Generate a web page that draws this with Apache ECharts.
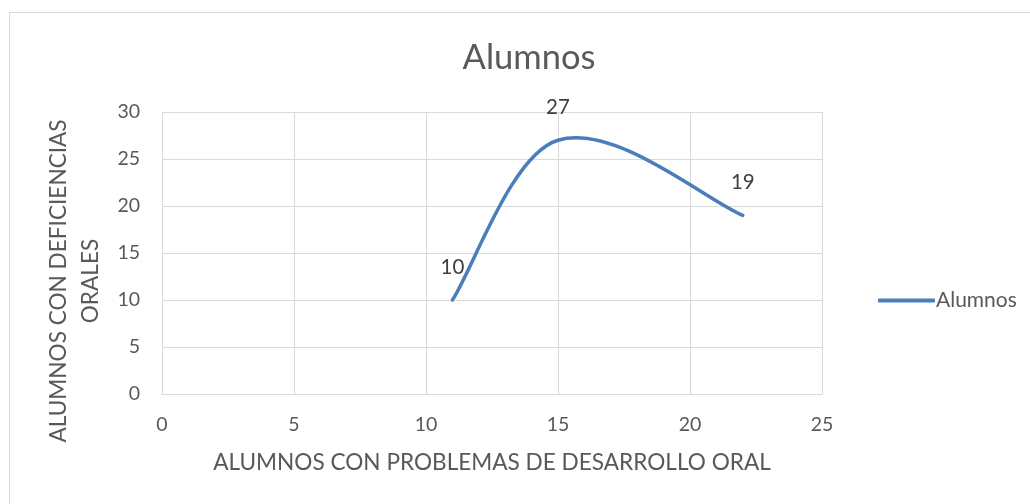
<!DOCTYPE html>
<html>
<head>
<meta charset="utf-8">
<script src="https://cdn.jsdelivr.net/npm/echarts@6/dist/echarts.min.js"></script>
<style>
html,body{margin:0;padding:0;background:#fff;}
#c{width:1030px;height:504px;}
</style>
</head>
<body>
<div id="c"></div>
<script>
var seriesName = 'Alumnos';
var xValues = [11, 15, 22];
var yValues = [10, 27, 19];
var xTicks = [0, 5, 10, 15, 20, 25];
var yTicks = [0, 5, 10, 15, 20, 25, 30];
var xTitle = 'ALUMNOS CON PROBLEMAS DE DESARROLLO ORAL';
var yTitle = 'ALUMNOS CON DEFICIENCIAS\nORALES';

var FONT = 'Lato, "Open Sans", sans-serif';
var LINE_COLOR = '#4a7ebb';
var points = xValues.map(function (x, i) { return [x, yValues[i]]; });

// Excel-like smoothed path through the points (pixel space, via api.coord)
function smoothPath(p) {
  var kIn = 0.16, kOut = 0.2, kEnd = 0.2;
  var n = p.length;
  var cin = [], cout = [];
  for (var i = 0; i < n; i++) {
    if (i === 0) {
      cout[i] = [p[0][0] + (p[1][0] - p[0][0]) * kEnd, p[0][1] + (p[1][1] - p[0][1]) * kEnd];
    } else if (i === n - 1) {
      cin[i] = [p[i][0] - (p[i][0] - p[i - 1][0]) * kEnd, p[i][1] - (p[i][1] - p[i - 1][1]) * kEnd];
    } else {
      var tx = p[i + 1][0] - p[i - 1][0], ty = p[i + 1][1] - p[i - 1][1];
      cin[i] = [p[i][0] - tx * kIn, p[i][1] - ty * kIn];
      cout[i] = [p[i][0] + tx * kOut, p[i][1] + ty * kOut];
    }
  }
  var d = 'M' + p[0][0] + ' ' + p[0][1];
  for (var j = 1; j < n; j++) {
    d += ' C' + cout[j - 1][0] + ' ' + cout[j - 1][1] + ' ' + cin[j][0] + ' ' + cin[j][1] + ' ' + p[j][0] + ' ' + p[j][1];
  }
  return d;
}

var chart = echarts.init(document.getElementById('c'));
chart.setOption({
  animation: false,
  backgroundColor: '#fff',
  textStyle: { fontFamily: FONT },
  graphic: [{
    type: 'rect',
    shape: { x: 9.5, y: 12.5, width: 1040, height: 520 },
    style: { fill: 'none', stroke: '#d9d9d9', lineWidth: 1 },
    silent: true, z: -1
  }],
  title: {
    text: 'Alumnos',
    left: 524,
    textAlign: 'center',
    top: 35,
    textStyle: { fontFamily: FONT, fontSize: 34.5, fontWeight: 'normal', color: '#595959' }
  },
  legend: {
    left: 873,
    top: 285,
    itemWidth: 57,
    itemHeight: 4,
    itemGap: 4,
    textStyle: { fontFamily: FONT, fontSize: 21, color: '#595959', padding: [0, 0, 0, -4] },
    data: [{ name: seriesName, icon: 'roundRect', itemStyle: { color: LINE_COLOR } }]
  },
  grid: { left: 162, right: 208, top: 112, bottom: 110, containLabel: false },
  xAxis: {
    type: 'value',
    min: xTicks[0], max: xTicks[xTicks.length - 1], interval: xTicks[1] - xTicks[0],
    name: xTitle,
    nameLocation: 'middle',
    nameGap: 57,
    nameTextStyle: { fontFamily: FONT, fontSize: 22.6, color: '#595959' },
    axisLine: { show: true, lineStyle: { color: '#d9d9d9', width: 1 } },
    axisTick: { show: false },
    axisLabel: { margin: 21, fontFamily: FONT, fontSize: 19.5, color: '#595959' },
    splitLine: { show: true, lineStyle: { color: '#d9d9d9', width: 1 } }
  },
  yAxis: {
    type: 'value',
    min: yTicks[0], max: yTicks[yTicks.length - 1], interval: yTicks[1] - yTicks[0],
    name: yTitle,
    nameLocation: 'middle',
    nameRotate: 90,
    nameGap: 55,
    nameTextStyle: { fontFamily: FONT, fontSize: 22.6, color: '#595959', lineHeight: 32, padding: [0, 56, 0, 0] },
    axisLine: { show: true, lineStyle: { color: '#d9d9d9', width: 1 } },
    axisTick: { show: false },
    axisLabel: { margin: 22, fontFamily: FONT, fontSize: 19.5, color: '#595959' },
    splitLine: { show: true, lineStyle: { color: '#d9d9d9', width: 1 } }
  },
  series: [{
    name: seriesName,
    type: 'custom',
    data: points,
    encode: { x: 0, y: 1 },
    clip: false,
    itemStyle: { color: LINE_COLOR },
    renderItem: function (params, api) {
      if (params.dataIndexInside !== 0) { return { type: 'group', children: [] }; }
      var px = points.map(function (pt) { return api.coord(pt); });
      var children = [{
        type: 'path',
        shape: { pathData: smoothPath(px) },
        style: { fill: 'none', stroke: LINE_COLOR, lineWidth: 3.5, lineCap: 'round', lineJoin: 'round' }
      }];
      px.forEach(function (c, i) {
        children.push({
          type: 'text',
          x: c[0], y: c[1] - 33,
          style: {
            text: String(yValues[i]),
            fill: '#404040',
            font: '20.5px ' + FONT,
            align: 'center',
            verticalAlign: 'middle'
          }
        });
      });
      return { type: 'group', children: children };
    }
  }]
});
</script>
</body>
</html>
